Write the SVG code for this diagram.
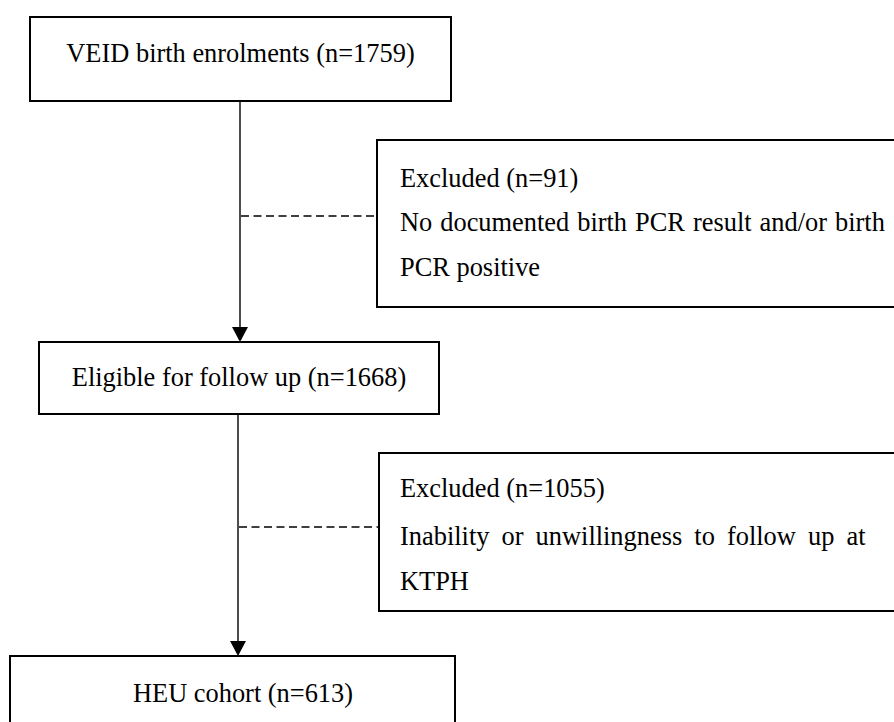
<svg xmlns="http://www.w3.org/2000/svg" width="894" height="722" viewBox="0 0 894 722">
<style>
.box{fill:#fff;stroke:#000;stroke-width:2}
.t{font-family:"Liberation Serif","Times New Roman",serif;font-size:26.4px;fill:#000}
.c{text-anchor:middle}
.line{stroke:#000;stroke-width:1.4;fill:none}
.dash{stroke:#000;stroke-width:1.5;stroke-dasharray:8 4.5;fill:none}
</style>
<defs>
<marker id="ah" markerWidth="16" markerHeight="15" refX="8" refY="15" orient="auto" markerUnits="userSpaceOnUse" viewBox="0 0 16 15">
<path d="M0,0 L16,0 L8,15 Z" fill="#000"/>
</marker>
</defs>
<rect width="894" height="722" fill="#fff"/>
<g id="connectors">
<line class="line" x1="240" y1="101" x2="240" y2="328"/>
<path d="M232,327 L248,327 L240,342 Z" fill="#000"/>
<line class="dash" x1="241" y1="216" x2="377" y2="216"/>
<line class="line" x1="238" y1="414" x2="238" y2="642"/>
<path d="M230,641 L246,641 L238,656 Z" fill="#000"/>
<line class="dash" x1="239" y1="527" x2="379" y2="527"/>
</g>
<g id="n1">
<rect class="box" x="30" y="17" width="421" height="84"/>
<text class="t c" x="240.5" y="62">VEID birth enrolments (n=1759)</text>
</g>
<g id="excl1">
<rect class="box" x="377" y="140" width="530" height="167"/>
<text class="t" x="400" y="187">Excluded (n=91)</text>
<text class="t" x="400" y="231" word-spacing="1.4">No documented birth PCR result and/or birth</text>
<text class="t" x="400" y="276">PCR positive</text>
</g>
<g id="n2">
<rect class="box" x="39" y="342" width="400" height="72"/>
<text class="t c" x="239" y="386">Eligible for follow up (n=1668)</text>
</g>
<g id="excl2">
<rect class="box" x="379" y="453" width="530" height="158"/>
<text class="t" x="400" y="497">Excluded (n=1055)</text>
<text class="t" x="400" y="545" word-spacing="5.5">Inability or unwillingness to follow up at</text>
<text class="t" x="400" y="590">KTPH</text>
</g>
<g id="n3">
<rect class="box" x="10" y="656" width="445" height="80"/>
<text class="t c" x="243" y="702">HEU cohort (n=613)</text>
</g>
</svg>
